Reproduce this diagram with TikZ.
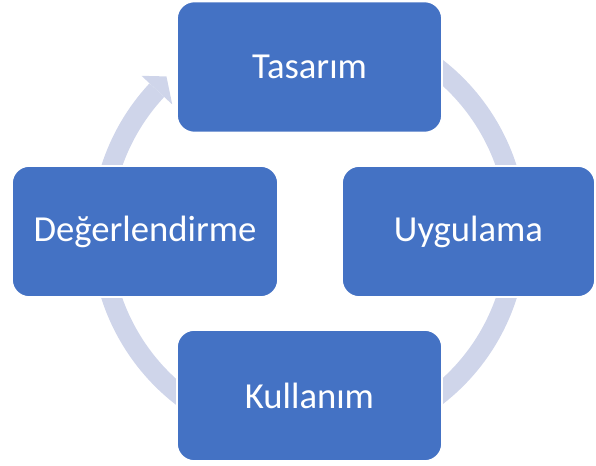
\documentclass[tikz,border=0pt]{standalone}
\usepackage{fontspec}
\setmainfont{Carlito}
\usetikzlibrary{calc}
\definecolor{boxblue}{HTML}{4472C4}
\definecolor{ringblue}{HTML}{CFD5EA}
\tikzset{
  cyclebox/.style={draw=white, line width=1.2pt, fill=boxblue, rounded corners=13pt,
    text=white, font=\fontsize{27.5}{33}\selectfont, inner sep=0pt, outer sep=0pt},
  ringline/.style={draw=ringblue, line width=15pt},
}
\begin{document}
\begin{tikzpicture}[x=0.75pt,y=0.75pt]
\useasboundingbox (0,0) rectangle (596,466);
\coordinate (c) at (309,234);
% ring with arrow
\draw[ringline] ($(c)+(75:208)$) arc[start angle=75, end angle=-223, radius=208];
\fill[ringblue] ($(c)+(137:229)$) -- ($(c)+(132.5:211)$) -- ($(c)+(137:187)$) -- cycle;
% boxes
\node[cyclebox, minimum width=265*0.75pt, minimum height=131*0.75pt] (tas) at (309.5,399) {Tasarım};
\node[cyclebox, minimum width=253*0.75pt, minimum height=131*0.75pt] (uyg) at (468.5,234.5) {Uygulama};
\node[cyclebox, minimum width=265*0.75pt, minimum height=131*0.75pt] (kul) at (309.5,70.5) {Kullanım};
\node[cyclebox, minimum width=266*0.75pt, minimum height=131*0.75pt] (deg) at (145,234.5) {Değerlendirme};
\end{tikzpicture}
\end{document}
